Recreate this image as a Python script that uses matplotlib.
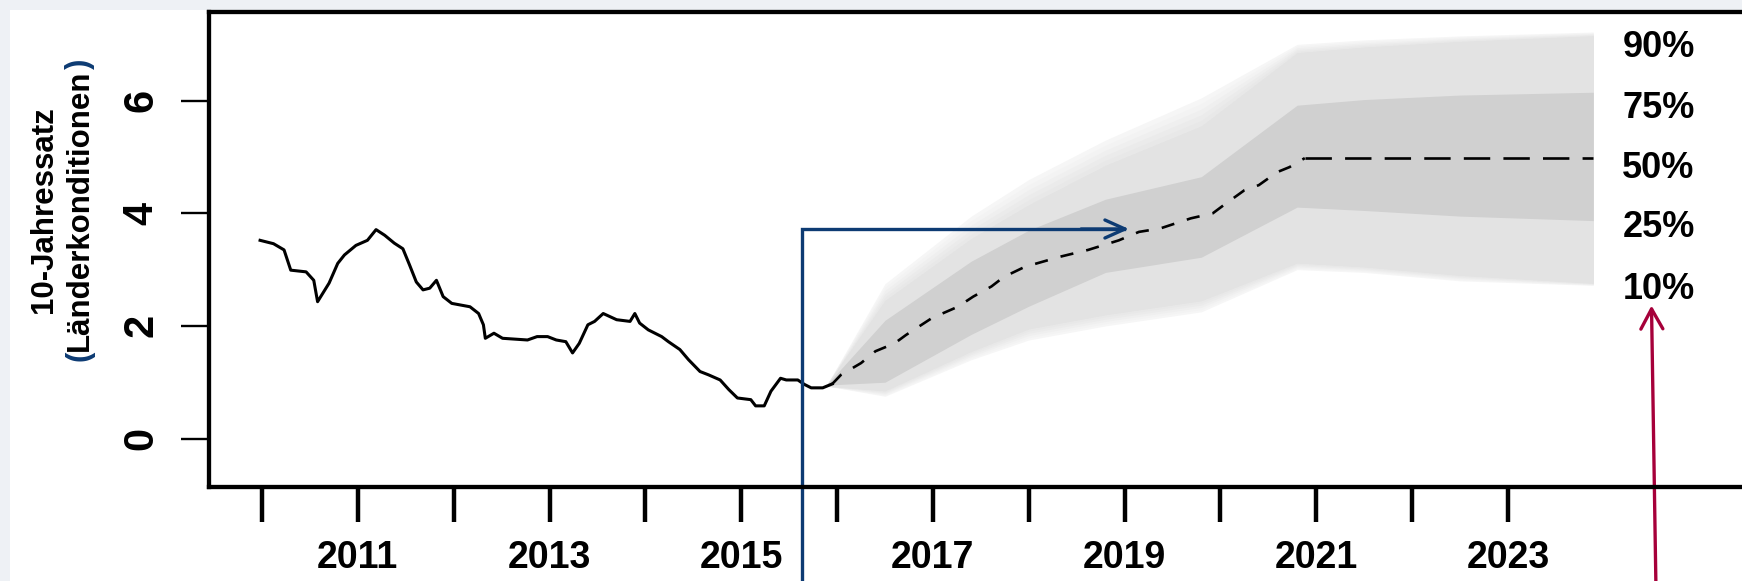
import numpy as np
import matplotlib.pyplot as plt
from matplotlib.patches import Rectangle, FancyArrowPatch, ArrowStyle

plt.rcParams['font.family'] = ['Liberation Sans', 'DejaVu Sans']
plt.rcParams['font.weight'] = 'bold'

# historic 10-year rate
hist_year = [2009.98, 2010.12, 2010.23, 2010.30, 2010.46, 2010.54, 2010.58, 2010.70,
             2010.79, 2010.86, 2010.98, 2011.10, 2011.19, 2011.28, 2011.38, 2011.47,
             2011.54, 2011.61, 2011.68, 2011.75, 2011.82, 2011.89, 2011.98, 2012.17,
             2012.26, 2012.31, 2012.33, 2012.42, 2012.51, 2012.77, 2012.87, 2012.98,
             2013.07, 2013.17, 2013.24, 2013.31, 2013.40, 2013.47, 2013.56, 2013.70,
             2013.84, 2013.89, 2013.94, 2014.03, 2014.17, 2014.24, 2014.36, 2014.45,
             2014.57, 2014.66, 2014.78, 2014.87, 2014.96, 2015.10, 2015.15, 2015.24,
             2015.31, 2015.41, 2015.47, 2015.59, 2015.66, 2015.73, 2015.85, 2015.95]
hist_val = [3.52, 3.46, 3.35, 2.99, 2.96, 2.81, 2.43, 2.76,
            3.11, 3.26, 3.43, 3.52, 3.71, 3.61, 3.47, 3.37,
            3.08, 2.78, 2.64, 2.67, 2.81, 2.52, 2.40, 2.34,
            2.22, 2.02, 1.78, 1.87, 1.78, 1.75, 1.81, 1.81,
            1.75, 1.72, 1.52, 1.69, 2.02, 2.08, 2.22, 2.11,
            2.08, 2.22, 2.05, 1.93, 1.81, 1.72, 1.58, 1.40,
            1.19, 1.13, 1.04, 0.87, 0.72, 0.69, 0.58, 0.58,
            0.84, 1.07, 1.04, 1.04, 0.96, 0.90, 0.90, 0.97]

# forecast median
fc_year = [2015.95, 2016.04, 2016.25, 2016.40, 2016.60, 2016.72, 2016.99, 2017.26,
           2017.42, 2017.61, 2017.74, 2017.96, 2018.33, 2018.62, 2018.94, 2019.15,
           2019.37, 2019.69, 2019.92, 2020.03, 2020.25, 2020.40, 2020.59, 2020.72,
           2020.88, 2023.89]
fc_med = [0.97, 1.13, 1.34, 1.55, 1.69, 1.84, 2.14, 2.34,
          2.52, 2.70, 2.87, 3.05, 3.23, 3.35, 3.52, 3.67,
          3.73, 3.91, 4.00, 4.14, 4.41, 4.50, 4.73, 4.82,
          4.98, 4.98]

# fan bands
band_year = [2015.9, 2016.5, 2017.4, 2018.0, 2018.8, 2019.8, 2020.8, 2021.5, 2022.5, 2023.89]
q95 = [0.97, 2.75, 3.95, 4.6, 5.3, 6.05, 7.0, 7.08, 7.15, 7.22]
q90 = [0.97, 2.45, 3.55, 4.15, 4.85, 5.55, 6.85, 6.95, 7.05, 7.15]
q75 = [0.97, 2.1, 3.15, 3.7, 4.25, 4.65, 5.92, 6.02, 6.1, 6.15]
q25 = [0.95, 1.0, 1.85, 2.35, 2.95, 3.22, 4.11, 4.05, 3.95, 3.87]
q10 = [0.93, 0.85, 1.55, 1.95, 2.2, 2.45, 3.12, 3.05, 2.9, 2.76]
q05 = [0.93, 0.75, 1.4, 1.75, 2.0, 2.25, 3.0, 2.95, 2.8, 2.72]

pct_labels = ['90%', '75%', '50%', '25%', '10%']
pct_label_y = [6.94, 5.87, 4.80, 3.74, 2.64]

xtick_years = list(range(2010, 2024))
xtick_labels = [str(y) if y % 2 == 1 else '' for y in xtick_years]
ytick_vals = [0, 2, 4, 6]

blue = '#0d3b73'
crimson = '#a6003a'

W, H = 1742, 581
fig = plt.figure(figsize=(W / 100, H / 100), dpi=100, facecolor='#eef1f5')
fig.add_artist(Rectangle((10 / W, 0), 1, 1 - 10 / H, transform=fig.transFigure,
                         facecolor='white', edgecolor='none', zorder=-5))

ax = fig.add_axes([209 / W, 1 - 487 / H, 1 - 209 / W, (487 - 12) / H])
ax.set_facecolor('white')
ppy = (1508 - 262) / 13.0
ax.set_xlim(2010 + (209 - 262) / ppy, 2010 + (1742 - 262) / ppy)
ax.set_ylim(-0.861, 7.575)

# fan, with soft outer edges
bx_arr = np.array(band_year)
lo_o, hi_o = np.array(q05), np.array(q95)
lo_m, hi_m = np.array(q10), np.array(q90)
steps = 6
for i in range(steps):
    t = i / (steps - 1)
    g = 0.965 - (0.965 - 0.895) * t
    ax.fill_between(bx_arr, lo_o + (lo_m - lo_o) * t, hi_o + (hi_m - hi_o) * t,
                    color=(g, g, g), lw=0)
ax.fill_between(band_year, q10, q90, color='#e3e3e3', lw=0)
ax.fill_between(band_year, q25, q75, color='#d0d0d0', lw=0)

ax.plot(hist_year, hist_val, color='black', lw=2.2)
k = len(fc_year) - 2
ax.plot(fc_year[:k + 1], fc_med[:k + 1], color='black', lw=1.9, dashes=(5, 5))
ax.plot(fc_year[k:], fc_med[k:], color='black', lw=1.9, dashes=(10, 5))

for s, y in zip(pct_labels, pct_label_y):
    ax.text(2024.57, y, s, ha='center', va='center', fontsize=26, fontweight='bold')

# axes styling
for side in ['left', 'top', 'bottom']:
    ax.spines[side].set_linewidth(3.1)
ax.spines['right'].set_visible(False)

ax.set_xticks(xtick_years)
ax.set_xticklabels(xtick_labels)
ax.tick_params(axis='x', direction='out', length=25, width=3.2, pad=13.5, labelsize=27)
ax.set_yticks(ytick_vals)
ax.set_yticklabels([str(v) for v in ytick_vals], rotation=90, va='center')
ax.tick_params(axis='y', direction='out', length=20, width=1.7, pad=14, labelsize=30)

# arrows
y_bot = -2.7
bx = 2010 + (802 - 262) / ppy
by = (438.5 - 229) / 56.3
bx_tip = 2010 + (1129 - 262) / ppy
ax.plot([bx, bx, bx_tip - 0.05], [y_bot, by, by], color=blue, lw=2.4, clip_on=False,
        solid_joinstyle='miter')
ax.add_patch(FancyArrowPatch((bx_tip - 0.5, by), (bx_tip, by),
                             arrowstyle=ArrowStyle('->', head_length=0.4, head_width=0.18),
                             mutation_scale=36, color=blue, lw=2.4, shrinkA=0, shrinkB=0,
                             clip_on=False))

cx0 = 2010 + (1656 - 262) / ppy
cx1 = 2010 + (1651.5 - 262) / ppy
cy1 = (438.5 - 305.5) / 56.3
ax.add_patch(FancyArrowPatch((cx0, y_bot), (cx1, cy1),
                             arrowstyle=ArrowStyle('->', head_length=0.4, head_width=0.22),
                             mutation_scale=36, color=crimson, lw=2.4, shrinkA=0, shrinkB=0,
                             clip_on=False))

# y label, two rotated lines
fs_lab = 22.5
fig.text(52 / W, (H - 210) / H, '10-Jahressatz', rotation=90, rotation_mode='anchor',
         ha='center', va='baseline', fontsize=fs_lab, fontweight='bold')
renderer = fig.canvas.get_renderer()
pieces = [('(', blue), ('Länderkonditionen', 'black'), (')', blue)]
probe = fig.text(0, 0, 'x', fontsize=fs_lab, fontweight='bold')
fp = probe.get_fontproperties()
probe.remove()
widths = [renderer.get_text_width_height_descent(s, fp, ismath=False)[0] for s, _ in pieces]
y0 = (H - 210) - sum(widths) / 2
for (s, c), w in zip(pieces, widths):
    fig.text(88 / W, y0 / H, s, rotation=90, rotation_mode='anchor', ha='left',
             va='baseline', fontsize=fs_lab, fontweight='bold', color=c)
    y0 += w

fig.savefig('out.png', dpi=100, facecolor=fig.get_facecolor())
